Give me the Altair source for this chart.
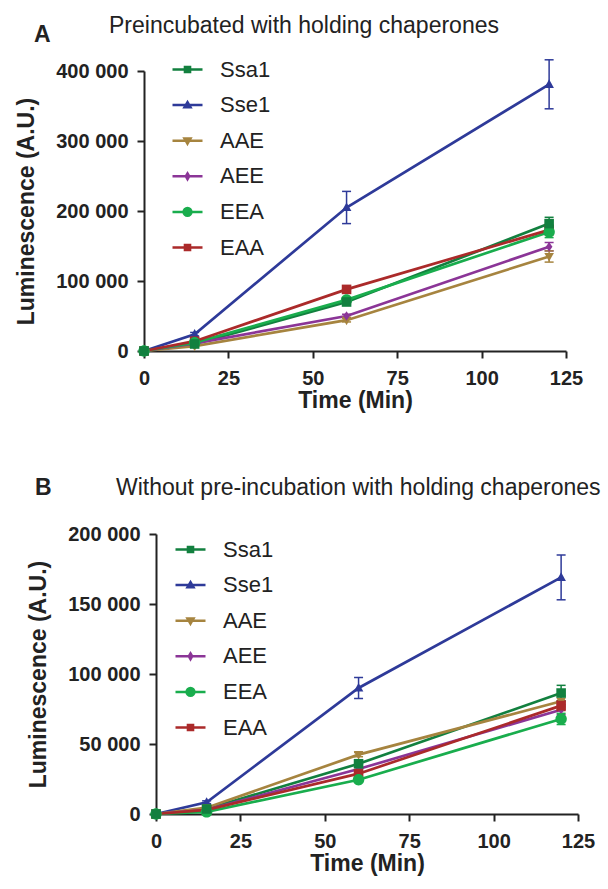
import altair as alt
import pandas as pd

series = ["Ssa1", "Sse1", "AAE", "AEE", "EEA", "EAA"]
colors = ["#12803f", "#2e3a99", "#a6843f", "#8b3597", "#19ad4d", "#ab2a2a"]
times = [0, 15, 60, 120]
x_ticks = [0, 25, 50, 75, 100, 125]

# Panel A: preincubated with holding chaperones
a_values = {
    "Ssa1": [0, 10000, 70000, 182000],
    "Sse1": [0, 24000, 205000, 381000],
    "AAE": [0, 7000, 44000, 135000],
    "AEE": [0, 11000, 50000, 149000],
    "EEA": [0, 12000, 73000, 170000],
    "EAA": [0, 14000, 88000, 173000],
}
a_errors = {
    "Ssa1": [0, 0, 3000, 9000],
    "Sse1": [0, 2500, 23000, 35000],
    "AAE": [0, 0, 2500, 8000],
    "AEE": [0, 0, 2500, 6000],
    "EEA": [0, 0, 2500, 8000],
    "EAA": [0, 0, 2500, 7000],
}
a_y_ticks = [0, 100000, 200000, 300000, 400000]

# Panel B: without pre-incubation
b_values = {
    "Ssa1": [0, 3600, 35900, 86400],
    "Sse1": [0, 8400, 90000, 169000],
    "AAE": [0, 4500, 42400, 80500],
    "AEE": [0, 3000, 32100, 74500],
    "EEA": [0, 1500, 24500, 67900],
    "EAA": [0, 3000, 28800, 77400],
}
b_errors = {
    "Ssa1": [0, 0, 2500, 5500],
    "Sse1": [0, 1000, 7500, 16000],
    "AAE": [0, 0, 1500, 4000],
    "AEE": [0, 0, 1500, 3500],
    "EEA": [0, 0, 1500, 4000],
    "EAA": [0, 0, 1500, 3500],
}
b_y_ticks = [0, 50000, 100000, 150000, 200000]

title_a = "Preincubated with holding chaperones"
title_b = "Without pre-incubation with holding chaperones"
x_title = "Time (Min)"
y_title = "Luminescence (A.U.)"

marker_paths = [
    "M-0.8,-0.8L0.8,-0.8L0.8,0.8L-0.8,0.8Z",
    "M0,-0.85L0.8,0.6L-0.8,0.6Z",
    "M0,0.85L0.8,-0.6L-0.8,-0.6Z",
    "M0,-0.8L0.55,0L0,0.8L-0.55,0Z",
    "M-0.95,0A0.95,0.95,0,1,0,0.95,0A0.95,0.95,0,1,0,-0.95,0Z",
    "M-0.8,-0.8L0.8,-0.8L0.8,0.8L-0.8,0.8Z",
]
# legend symbols: a line segment with a (stroked, nested so it looks solid) marker
line_seg = "M-1,0L1,0"
sq = "M-0.17,-0.17L0.17,-0.17L0.17,0.17L-0.17,0.17ZM-0.08,-0.08L0.08,-0.08L0.08,0.08L-0.08,0.08Z"
tri_up = "M0,-0.2L0.2,0.14L-0.2,0.14ZM0,-0.08L0.08,0.06L-0.08,0.06Z"
tri_dn = "M0,0.2L0.2,-0.14L-0.2,-0.14ZM0,0.08L0.08,-0.06L-0.08,-0.06Z"
dia = "M0,-0.19L0.11,0L0,0.19L-0.11,0ZM0,-0.1L0,0.1"
circ = ("M-0.26,0A0.26,0.26,0,1,0,0.26,0A0.26,0.26,0,1,0,-0.26,0Z"
        "M-0.12,0A0.12,0.12,0,1,0,0.12,0A0.12,0.12,0,1,0,-0.12,0ZM0,-0.04L0,0.04")
legend_paths = [line_seg + sq, line_seg + tri_up, line_seg + tri_dn,
                line_seg + dia, line_seg + circ, line_seg + sq]

FONT = "Liberation Sans"
z_order = {"Sse1": 0, "AAE": 1, "AEE": 2, "EAA": 3, "EEA": 4, "Ssa1": 5}


def build_df(values, errors):
    rows = []
    for s in series:
        for t, v, e in zip(times, values[s], errors[s]):
            rows.append({"series": s, "time": t, "value": v, "err": e,
                         "lo": v - e, "hi": v + e, "z": z_order[s]})
    return pd.DataFrame(rows)


def panel(values, errors, ymax, yticks, xrange, width, yoffset,
          title, title_x, title_y, letter, letter_x, letter_y,
          legend_x, legend_y, row_pad):
    df = build_df(values, errors)
    err_df = df[df["err"] > 0]
    one = pd.DataFrame({"k": [0]})

    xscale = alt.Scale(domain=[0, 125], range=xrange, nice=False, zero=False)
    yscale = alt.Scale(domain=[0, ymax], nice=False)
    xaxis = alt.Axis(values=x_ticks, format="d", title=x_title, labelFlush=False,
                     labelOverlap=False, labelPadding=10, titlePadding=1)
    yaxis = alt.Axis(values=yticks, title=y_title, offset=yoffset, labelFlush=False,
                     labelOverlap=False,
                     labelExpr="replace(format(datum.value, ','), ',', ' ')",
                     labelPadding=9, titlePadding=17)
    cscale = alt.Scale(domain=series, range=colors)

    X = alt.X("time:Q", scale=xscale, axis=xaxis)

    def Y(field):
        return alt.Y(field, type="quantitative", scale=yscale, axis=yaxis)

    col = alt.Color("series:N", scale=cscale, legend=None)

    bounds = alt.Chart(one).mark_rule(color="white", strokeWidth=1).encode(
        x=alt.value(-142), y=alt.value(-65), y2=alt.value(365))

    lines = alt.Chart(df).mark_line(strokeWidth=2.7).encode(
        x=X, y=Y("value"), color=col)

    err_rule = alt.Chart(err_df).mark_rule(strokeWidth=1.5).encode(
        x=X, y=Y("lo"), y2="hi:Q", color=col)
    cap_lo = alt.Chart(err_df).mark_tick(orient="horizontal", size=9, thickness=1.5, opacity=1).encode(
        x=X, y=Y("lo"), color=col)
    cap_hi = alt.Chart(err_df).mark_tick(orient="horizontal", size=9, thickness=1.5, opacity=1).encode(
        x=X, y=Y("hi"), color=col)

    points = alt.Chart(df).mark_point(filled=True, opacity=1, size=144, strokeWidth=0).encode(
        x=X, y=Y("value"), color=col,
        shape=alt.Shape("series:N", scale=alt.Scale(domain=series, range=marker_paths), legend=None),
        order=alt.Order("z:Q"))

    leg = alt.Legend(orient="none", legendX=legend_x, legendY=legend_y, title=None,
                     padding=0, rowPadding=row_pad, symbolSize=900, symbolStrokeWidth=2.5,
                     symbolOpacity=1, labelFont=FONT, labelFontSize=22, labelColor="#222",
                     labelOffset=16, labelLimit=200, direction="vertical")
    legend_layer = alt.Chart(pd.DataFrame({"series": series})).transform_filter("false").mark_point(
        filled=False, opacity=1).encode(
        color=alt.Color("series:N", scale=alt.Scale(domain=series, range=colors), legend=leg),
        shape=alt.Shape("series:N", scale=alt.Scale(domain=series, range=legend_paths), legend=leg))

    title_mark = alt.Chart(one).mark_text(align="left", baseline="alphabetic", font=FONT,
                                          fontSize=23, color="#222").encode(
        x=alt.value(title_x), y=alt.value(title_y), text=alt.value(title))
    letter_mark = alt.Chart(one).mark_text(align="left", baseline="alphabetic", font=FONT,
                                           fontSize=23, fontWeight="bold", color="#222").encode(
        x=alt.value(letter_x), y=alt.value(letter_y), text=alt.value(letter))

    return alt.layer(bounds, lines, err_rule, cap_lo, cap_hi, points, legend_layer,
                     title_mark, letter_mark).resolve_scale(
        shape="independent", color="independent").properties(width=width, height=280)


chart_a = panel(a_values, a_errors, 400000, a_y_ticks, [0, 422], 422, 0,
                title_a, -35, -38.5, "A", -110, -29, 27, -18, 7.6)
chart_b = panel(b_values, b_errors, 200000, b_y_ticks, [12, 434], 434, -12,
                title_b, -28, -39, "B", -109, -39, 30, -1, 7.6)

chart = alt.vconcat(chart_a, chart_b, spacing=31).properties(
    padding={"left": 1, "top": 5, "right": 0, "bottom": 0}
).configure_view(stroke=None).configure_axis(
    grid=False, domainColor="#222", domainWidth=2, tickColor="#222", tickWidth=2,
    tickSize=7, labelFont=FONT, labelFontWeight="bold", labelFontSize=20,
    labelColor="#222", titleFont=FONT, titleFontWeight="bold", titleFontSize=23,
    titleColor="#222"
)

chart.save("out.html", embed_options={"renderer": "svg", "actions": False})
